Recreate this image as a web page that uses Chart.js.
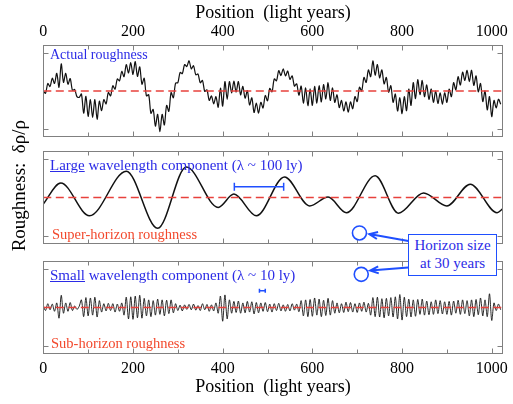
<!DOCTYPE html>
<html>
<head>
<meta charset="utf-8">
<script src="https://cdn.jsdelivr.net/npm/chart.js@4.4.1/dist/chart.umd.min.js"></script>
<style>
  body { margin: 0; background: #fff; }
  #wrap { position: relative; width: 513px; height: 404px; overflow: hidden;
          font-family: "Liberation Serif", "Times New Roman", serif; }
  canvas { position: absolute; left: 0; }
  .note { position: absolute; white-space: nowrap; line-height: 1; }
  .blue { color: #2b2be6; }
  .red { color: #f2482c; }
  #horizonBox { position: absolute; left: 408px; top: 234px; width: 89px; height: 42px;
                box-sizing: border-box; border: 1.5px solid #1f4fff; background: #fff;
                color: #2b2be6; font-size: 15px; line-height: 17.5px; text-align: center;
                padding-top: 2px; }
</style>
</head>
<body>
<div id="wrap">
  <canvas id="actualChart" width="513" height="137" style="top:0"></canvas>
  <canvas id="smallChart" width="513" height="143" style="top:261px"></canvas>
  <canvas id="largeChart" width="513" height="190" style="top:105px"></canvas>

  <div class="note blue" style="left:50px; top:47.5px; font-size:14px">Actual roughness</div>
  <div class="note blue" style="left:50px; top:158px; font-size:15px"><u>Large</u> wavelength component (λ ~ 100 ly)</div>
  <div class="note red" style="left:52px; top:227px; font-size:14.5px">Super-horizon roughness</div>
  <div class="note blue" style="left:50px; top:267.5px; font-size:15px"><u>Small</u> wavelength component (λ ~ 10 ly)</div>
  <div class="note red" style="left:51px; top:336px; font-size:14.5px">Sub-horizon roughness</div>
  <div id="horizonBox">Horizon size<br>at 30 years</div>
</div>

<script>
// x axis ticks (labels every 200) and the +/-1 y ticks
const xTicks = [0, 100, 200, 300, 400, 500, 600, 700, 800, 900, 1000];
const yTicks = [-1, 1];
const sampleStep = 5; // light years between readings

// Actual roughness (top panel), one reading per 5 ly from 0 to 1020
const actualRoughness = [
    0.0, -0.06, 0.2, 0.12, 0.34, 0.2, 0.47, 0.1, 0.72, 0.23,
    0.47, 0.18, 0.33, 0.02, 0.04, -0.15, -0.17, -0.08, -0.59, -0.14,
    -0.67, -0.23, -0.7, -0.23, -0.75, -0.27, -0.52, -0.23, -0.34, -0.04,
    -0.13, 0.14, 0.05, 0.32, 0.27, 0.52, 0.38, 0.7, 0.48, 0.75,
    0.44, 0.78, 0.39, 0.64, 0.18, 0.34, -0.13, -0.1, -0.59, -0.49,
    -0.93, -0.62, -1.08, -0.62, -0.9, -0.38, -0.54, -0.04, -0.18, 0.21,
    0.22, 0.49, 0.46, 0.7, 0.65, 0.8, 0.59, 0.67, 0.43, 0.45,
    0.22, 0.28, -0.01, 0.03, -0.25, -0.13, -0.34, -0.15, -0.43, 0.08,
    -0.4, 0.25, -0.22, 0.25, -0.05, 0.26, -0.03, 0.25, -0.1, 0.12,
    -0.19, 0.01, -0.37, -0.18, -0.57, -0.32, -0.59, -0.3, -0.45, -0.12,
    -0.26, 0.07, -0.02, 0.32, 0.27, 0.54, 0.41, 0.59, 0.4, 0.53,
    0.31, 0.4, 0.13, 0.19, -0.11, 0.13, -0.32, 0.08, -0.39, 0.06,
    -0.38, 0.12, -0.32, 0.14, -0.29, 0.17, -0.21, 0.22, -0.25, 0.08,
    -0.3, -0.1, -0.44, -0.25, -0.53, -0.29, -0.56, -0.29, -0.47, -0.15,
    -0.28, 0.1, 0.0, 0.36, 0.23, 0.56, 0.38, 0.8, 0.42, 0.7,
    0.35, 0.56, 0.19, 0.36, -0.03, 0.14, -0.3, -0.08, -0.53, -0.18,
    -0.6, -0.15, -0.52, 0.05, -0.38, 0.22, -0.2, 0.3, -0.1, 0.28,
    -0.15, 0.16, -0.22, 0.05, -0.3, 0.0, -0.33, -0.05, -0.35, -0.05,
    -0.3, 0.05, -0.15, 0.22, 0.03, 0.38, 0.16, 0.5, 0.28, 0.55,
    0.25, 0.55, 0.15, 0.4, -0.02, 0.2, -0.28, 0.0, -0.5, -0.15,
    -0.68, -0.25, -0.45, -0.22, -0.35
];

// Large wavelength component: peaks and troughs
const largePositions = [0, 39, 103, 185, 255, 319, 390, 425, 475, 538, 594, 635, 676, 740, 792, 848, 900, 952, 1012, 1024];
const largeValues = [-0.17, 0.38, -0.48, 0.69, -0.81, 0.8, -0.26, 0.09, -0.48, 0.54, -0.22, 0.01, -0.4, 0.57, -0.41, 0.12, -0.22, 0.35, -0.4, -0.3];

// Small wavelength component (bottom panel), one reading per 5 ly
const smallRoughness = [
    0.05, -0.08, 0.1, -0.06, 0.09, -0.1, 0.12, -0.28, 0.32, -0.15,
    0.12, -0.1, 0.13, -0.08, 0.04, -0.05, 0.03, 0.2, -0.24, 0.26,
    -0.22, 0.25, -0.2, 0.27, -0.25, 0.18, -0.12, 0.1, -0.09, 0.11,
    -0.08, 0.1, -0.12, 0.09, -0.1, 0.12, -0.2, 0.27, -0.3, 0.28,
    -0.31, 0.3, -0.27, 0.32, -0.28, 0.24, -0.22, 0.2, -0.24, 0.18,
    -0.2, 0.22, -0.18, 0.2, -0.22, 0.19, -0.16, 0.2, -0.14, 0.1,
    -0.08, 0.06, -0.09, 0.07, -0.05, 0.08, -0.06, 0.09, -0.07, 0.05,
    -0.08, 0.1, -0.06, 0.08, -0.1, 0.07, -0.09, 0.12, -0.15, 0.3,
    -0.36, 0.33, -0.3, 0.2, -0.15, 0.16, -0.13, 0.17, -0.15, 0.12,
    -0.14, 0.16, -0.12, 0.15, -0.17, 0.13, -0.14, 0.12, -0.1, 0.13,
    -0.11, 0.09, -0.12, 0.1, -0.08, 0.11, -0.09, 0.07, -0.1, 0.08,
    -0.09, 0.1, -0.07, 0.09, -0.11, 0.18, -0.22, 0.2, -0.24, 0.21,
    -0.23, 0.25, -0.2, 0.22, -0.24, 0.19, -0.21, 0.24, -0.2, 0.18,
    -0.15, 0.12, -0.14, 0.1, -0.13, 0.14, -0.11, 0.13, -0.12, 0.1,
    -0.13, 0.12, -0.1, 0.14, -0.12, 0.11, -0.2, 0.26, -0.24, 0.27,
    -0.25, 0.23, -0.27, 0.24, -0.22, 0.26, -0.25, 0.28, -0.3, 0.34,
    -0.33, 0.27, -0.24, 0.22, -0.25, 0.2, -0.23, 0.21, -0.18, 0.22,
    -0.2, 0.17, -0.19, 0.15, -0.18, 0.2, -0.16, 0.18, -0.17, 0.15,
    -0.18, 0.16, -0.2, 0.17, -0.15, 0.19, -0.18, 0.2, -0.16, 0.18,
    -0.22, 0.2, -0.24, 0.21, -0.19, 0.25, -0.22, 0.2, -0.24, 0.36,
    -0.34, 0.12, -0.08, 0.09, -0.06
];

// the zero line drawn across each panel
const zeroLine = [0, 1024];

// annotation marks, in data units of their panel
const largeScaleBar = { from: 426, to: 536, at: 0.28, cap: 4 };
const smallScaleBar = { from: 482, to: 495, at: 0.44, cap: 2 };
const largeHorizon = { x: 705, y: -0.93 };
const smallHorizon = { x: 709, y: 0.87 };
const largeArrow = { from: [814, -1.14], to: [727, -0.96] };
const smallArrow = { from: [814, 1.05], to: [729, 0.97] };

const markBlue = '#1f4fff';
const serif = '"Liberation Serif", "Times New Roman", serif';
Chart.defaults.font.family = serif;
Chart.defaults.color = '#000';

function toPoints(values, step) {
    return values.map((v, i) => ({ x: i * step, y: v }));
}

// Frame with inward tick marks on all four sides
const framePlugin = {
    id: 'panelFrame',
    afterDatasetsDraw(chart) {
        const { ctx, chartArea: a, scales } = chart;
        const L = Math.round(a.left) + 0.5, R = Math.round(a.right) - 0.5;
        const T = Math.round(a.top) + 0.5, B = Math.round(a.bottom) - 0.5;
        ctx.save();
        ctx.strokeStyle = '#808080';
        ctx.lineWidth = 1;
        ctx.strokeRect(L, T, R - L, B - T);
        ctx.beginPath();
        xTicks.forEach(v => {
            const px = Math.round(scales.x.getPixelForValue(v)) + 0.5;
            const len = v % 200 === 0 ? 5 : 4;
            ctx.moveTo(px, T); ctx.lineTo(px, T + len);
            ctx.moveTo(px, B); ctx.lineTo(px, B - len);
        });
        yTicks.forEach(v => {
            const py = Math.round(scales.y.getPixelForValue(v)) + 0.5;
            ctx.moveTo(L, py); ctx.lineTo(L + 5, py);
            ctx.moveTo(R, py); ctx.lineTo(R - 5, py);
        });
        ctx.stroke();
        ctx.restore();
    }
};

// Scale bars, horizon circles and arrows
const marksPlugin = {
    id: 'panelMarks',
    afterDraw(chart, args, opts) {
        const { ctx, scales: { x, y } } = chart;
        ctx.save();
        ctx.strokeStyle = markBlue;
        ctx.fillStyle = markBlue;
        (opts.bars || []).forEach(b => {
            const x0 = x.getPixelForValue(b.from), x1 = x.getPixelForValue(b.to);
            const py = y.getPixelForValue(b.at);
            ctx.lineWidth = 1.5;
            ctx.beginPath();
            ctx.moveTo(x0, py); ctx.lineTo(x1, py);
            ctx.moveTo(x0, py - b.cap); ctx.lineTo(x0, py + b.cap);
            ctx.moveTo(x1, py - b.cap); ctx.lineTo(x1, py + b.cap);
            ctx.stroke();
        });
        (opts.circles || []).forEach(c => {
            ctx.lineWidth = 1.6;
            ctx.beginPath();
            ctx.arc(x.getPixelForValue(c.x), y.getPixelForValue(c.y), 7, 0, Math.PI * 2);
            ctx.stroke();
        });
        (opts.arrows || []).forEach(a => {
            const x0 = x.getPixelForValue(a.from[0]), y0 = y.getPixelForValue(a.from[1]);
            const x1 = x.getPixelForValue(a.to[0]), y1 = y.getPixelForValue(a.to[1]);
            const ang = Math.atan2(y1 - y0, x1 - x0);
            ctx.lineWidth = 2;
            ctx.beginPath();
            ctx.moveTo(x0, y0); ctx.lineTo(x1, y1);
            ctx.moveTo(x1 - 9 * Math.cos(ang - 0.4), y1 - 9 * Math.sin(ang - 0.4));
            ctx.lineTo(x1, y1);
            ctx.lineTo(x1 - 9 * Math.cos(ang + 0.4), y1 - 9 * Math.sin(ang + 0.4));
            ctx.stroke();
        });
        ctx.restore();
    }
};

function zeroDataset() {
    return {
        data: zeroLine.map(v => ({ x: v, y: 0 })),
        borderColor: '#e8413c',
        borderWidth: 1.3,
        borderDash: [8, 4.5],
        pointRadius: 0
    };
}

function xScale(position, show) {
    return {
        type: 'linear',
        position: position,
        display: show,
        min: 0,
        max: 1024,
        afterBuildTicks: s => { s.ticks = xTicks.map(v => ({ value: v })); },
        afterFit: s => { s.height = !show ? 0 : (position === 'top' ? 45 : 50); },
        grid: { display: false, drawTicks: false },
        border: { display: false },
        ticks: {
            autoSkip: false,
            maxRotation: 0,
            padding: position === 'top' ? 4 : 5,
            font: { size: 16 },
            callback: v => (v % 200 === 0 ? v : '')
        },
        title: {
            display: true,
            text: 'Position  (light years)',
            font: { size: 18 },
            padding: position === 'top' ? { top: 2, bottom: 0 } : { top: 0, bottom: 6 }
        }
    };
}

function yScale(withTitle) {
    return {
        type: 'linear',
        min: -1.22,
        max: 1.22,
        afterFit: s => { s.width = 43.3; },
        grid: { display: false, drawTicks: false },
        border: { display: false },
        ticks: { display: false },
        title: {
            display: withTitle,
            // leading spaces nudge the centred title up like the original
            text: '     Roughness:  δρ/ρ',
            font: { size: 19 },
            padding: { top: 9, bottom: 0 }
        }
    };
}

function baseOptions(x, y, marks, padTop, padBottom) {
    return {
        responsive: false,
        animation: false,
        events: [],
        layout: { padding: { left: 0, right: 10.5, top: padTop, bottom: padBottom } },
        plugins: { legend: { display: false }, tooltip: { enabled: false }, panelMarks: marks },
        scales: { x: x, y: y }
    };
}

new Chart(document.getElementById('actualChart'), {
    type: 'line',
    data: {
        datasets: [zeroDataset(), {
            data: toPoints(actualRoughness, sampleStep),
            borderColor: '#111',
            borderWidth: 1.2,
            pointRadius: 0,
            tension: 0.3
        }]
    },
    options: baseOptions(xScale('top', true), yScale(false), {}, 0, 0),
    plugins: [framePlugin, marksPlugin]
});

// middle canvas is taller than its panel so the rotated y title fits
new Chart(document.getElementById('largeChart'), {
    type: 'line',
    data: {
        datasets: [zeroDataset(), {
            data: largePositions.map((p, i) => ({ x: p, y: largeValues[i] })),
            borderColor: '#111',
            borderWidth: 1.5,
            pointRadius: 0,
            cubicInterpolationMode: 'monotone'
        }]
    },
    options: baseOptions(xScale('bottom', false), yScale(true), {
        bars: [largeScaleBar], circles: [largeHorizon], arrows: [largeArrow]
    }, 46, 51),
    plugins: [framePlugin, marksPlugin]
});

new Chart(document.getElementById('smallChart'), {
    type: 'line',
    data: {
        datasets: [zeroDataset(), {
            data: toPoints(smallRoughness, sampleStep),
            borderColor: '#111',
            borderWidth: 0.9,
            pointRadius: 0,
            tension: 0.3
        }]
    },
    options: baseOptions(xScale('bottom', true), yScale(false), {
        bars: [smallScaleBar], circles: [smallHorizon], arrows: [smallArrow]
    }, 0, 0),
    plugins: [framePlugin, marksPlugin]
});
</script>
</body>
</html>
